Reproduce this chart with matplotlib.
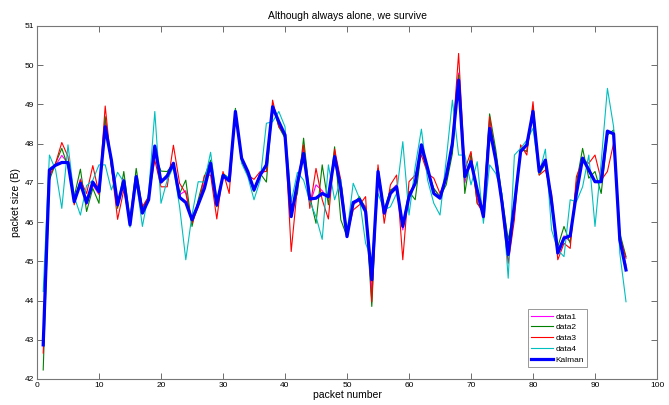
import matplotlib
matplotlib.use("Agg")
import matplotlib.pyplot as plt
import numpy as np

plt.rcParams['font.family'] = ['Liberation Sans', 'DejaVu Sans']

packet = list(range(1, 96))

data1 = [42.85, 47.2, 47.45, 47.7, 47.5, 46.5, 47.1, 46.45, 46.95, 46.7,
         48.6, 47.5, 46.4, 47.1, 45.95, 47.2, 46.3, 46.6, 47.8, 47.1,
         47.1, 47.5, 46.7, 46.8, 46.0, 46.5, 47.0, 47.5, 46.4, 47.2,
         47.05, 48.85, 47.6, 47.25, 46.85, 47.25, 47.3, 49.0, 48.5, 48.2,
         46.2, 46.9, 47.9, 46.45, 46.95, 46.8, 46.6, 47.8, 46.7, 45.65,
         46.45, 46.55, 46.4, 44.2, 47.35, 46.2, 46.8, 46.95, 45.8, 46.75,
         46.95, 47.85, 47.3, 46.85, 46.65, 47.1, 47.9, 49.8, 47.0, 47.65,
         46.6, 46.2, 48.6, 47.7, 46.6, 45.3, 46.3, 47.85, 47.8, 48.9,
         47.25, 47.5, 46.6, 45.25, 45.65, 45.5, 46.85, 47.65, 47.33, 47.05,
         47.03, 48.3, 48.25, 45.6, 44.9]
data2 = [42.23, 47.07, 47.5, 47.88, 47.41, 46.65, 47.35, 46.27, 46.86, 46.48,
         48.69, 47.41, 46.35, 47.29, 46.06, 47.37, 46.35, 46.65, 47.71, 47.3,
         47.29, 47.5, 46.73, 47.07, 45.89, 46.57, 47.16, 47.58, 46.39, 47.24,
         47.12, 48.9, 47.54, 47.24, 46.78, 47.24, 47.02, 48.99, 48.43, 48.14,
         46.27, 46.73, 48.14, 46.65, 45.97, 47.46, 46.44, 47.92, 46.06, 45.63,
         46.44, 46.65, 46.35, 43.85, 47.37, 46.31, 46.82, 46.9, 45.93, 46.78,
         46.57, 47.84, 47.29, 46.86, 46.65, 46.95, 47.75, 49.75, 46.73, 47.75,
         46.48, 46.31, 48.76, 47.84, 46.65, 45.55, 46.39, 47.88, 47.8, 48.94,
         47.2, 47.5, 46.39, 45.37, 45.89, 45.46, 46.99, 47.88, 47.12, 47.29,
         46.73, 48.22, 48.35, 45.72, 45.12]
data3 = [42.66, 47.16, 47.5, 48.03, 47.67, 46.44, 47.07, 46.73, 47.44, 46.73,
         48.96, 47.41, 46.07, 46.82, 45.97, 47.16, 46.39, 46.65, 47.58, 46.9,
         46.9, 47.96, 46.99, 46.73, 45.97, 46.39, 47.19, 47.2, 46.08, 47.29,
         46.73, 48.82, 47.58, 47.2, 47.09, 47.29, 47.29, 49.11, 48.43, 48.22,
         45.25, 46.9, 47.97, 46.35, 47.37, 46.57, 46.08, 47.86, 47.07, 45.65,
         46.31, 46.44, 46.65, 43.97, 47.46, 45.97, 46.95, 47.2, 45.04, 47.03,
         47.2, 47.71, 47.24, 47.12, 46.73, 47.12, 48.09, 50.3, 47.33, 47.8,
         46.48, 46.23, 48.69, 47.58, 46.39, 44.95, 46.06, 47.97, 47.71, 49.07,
         47.2, 47.33, 46.73, 45.04, 45.46, 45.33, 47.16, 47.58, 47.5, 47.71,
         47.07, 47.29, 48.01, 45.63, 45.08]
data4 = [44.23, 47.71, 47.33, 46.35, 47.97, 46.65, 46.18, 46.93, 47.07, 47.46,
         47.46, 46.82, 47.27, 47.02, 45.87, 47.07, 45.89, 46.73, 48.82, 46.48,
         47.07, 47.41, 46.39, 45.04, 46.18, 47.03, 47.02, 47.78, 46.57, 47.16,
         47.16, 48.86, 47.5, 47.16, 46.57, 47.07, 48.52, 48.56, 48.82, 48.43,
         46.52, 47.27, 47.07, 46.52, 46.14, 45.56, 47.46, 46.57, 47.09, 45.72,
         46.99, 46.61, 45.46, 45.04, 46.73, 46.31, 46.39, 46.73, 48.05, 46.18,
         47.41, 48.37, 47.07, 46.48, 46.18, 47.58, 49.11, 47.71, 47.71, 46.95,
         47.54, 45.97, 47.46, 47.24, 46.73, 44.57, 47.71, 47.88, 48.09, 48.39,
         47.24, 47.86, 45.8, 45.29, 45.12, 46.57, 46.52, 46.9, 47.71, 45.89,
         47.54, 49.41, 48.43, 45.21, 43.97]
kalman = [42.87, 47.33, 47.45, 47.52, 47.52, 46.52, 46.99, 46.5, 47.02, 46.78,
          48.43, 47.58, 46.44, 47.05, 45.93, 47.16, 46.23, 46.57, 47.94, 47.02,
          47.18, 47.5, 46.63, 46.5, 46.06, 46.45, 46.86, 47.5, 46.44, 47.19,
          47.05, 48.82, 47.63, 47.29, 46.82, 47.2, 47.46, 48.94, 48.56, 48.22,
          46.14, 46.99, 47.75, 46.59, 46.61, 46.73, 46.65, 47.67, 46.86, 45.63,
          46.5, 46.58, 46.27, 44.53, 47.29, 46.23, 46.73, 46.9, 45.89, 46.65,
          46.99, 47.97, 47.37, 46.73, 46.61, 47.16, 48.01, 49.62, 47.16, 47.54,
          46.82, 46.14, 48.39, 47.58, 46.5, 45.17, 46.44, 47.8, 47.97, 48.82,
          47.29, 47.58, 46.52, 45.21, 45.59, 45.65, 46.73, 47.63, 47.33, 47.03,
          47.03, 48.32, 48.25, 45.55, 44.78]

fig = plt.figure(figsize=(6.69, 4.05), dpi=100)
ax = fig.add_axes([37 / 669, 1 - 379 / 405, 620 / 669, 353 / 405])

ax.plot(packet, data1, color='#ff00ff', lw=0.8, label='data1')
ax.plot(packet, data2, color='#008000', lw=0.8, label='data2')
ax.plot(packet, data3, color='#ff0000', lw=0.8, label='data3')
ax.plot(packet, data4, color='#00bfbf', lw=0.8, label='data4')
ax.plot(packet, kalman, color='#0000ff', lw=2.3, label='Kalman')

ax.set_xlim(0, 100)
ax.set_ylim(42, 51)
ax.set_xticks(np.arange(0, 101, 10))
ax.set_yticks(np.arange(42, 52, 1))
ax.tick_params(direction='in', top=True, right=True, labelsize=6, length=4,
               width=0.6, colors='#555555', labelcolor='black', pad=2)
for s in ax.spines.values():
    s.set_color('#777777')
    s.set_linewidth(0.8)

ax.set_title('Although always alone, we survive', fontsize=7.5, pad=5)
ax.set_xlabel('packet number', fontsize=7.5, labelpad=1)
ax.set_ylabel('packet size (B)', fontsize=7.5, labelpad=3)

leg = ax.legend(loc='lower left', bbox_to_anchor=(0.792, 0.034), fontsize=6,
                fancybox=False, framealpha=1, edgecolor='#888888',
                handlelength=2.6, handletextpad=0.3, borderpad=0.4,
                labelspacing=0.35, borderaxespad=0)
leg.get_frame().set_linewidth(0.6)

fig.savefig('out.png', dpi=100)
